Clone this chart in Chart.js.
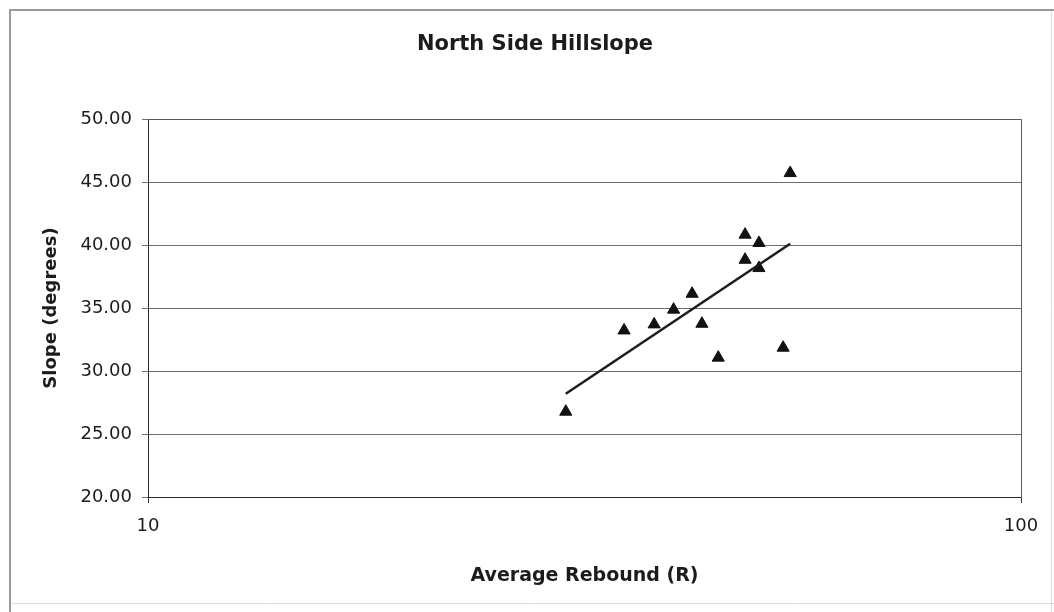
<!DOCTYPE html>
<html>
<head>
<meta charset="utf-8">
<title>North Side Hillslope</title>
<script src="https://cdn.jsdelivr.net/npm/chart.js@4/dist/chart.umd.min.js"></script>
<style>
  html, body { margin: 0; padding: 0; background: #fff; }
  canvas { display: block; }
</style>
</head>
<body>
<canvas id="chart" width="1054" height="612"></canvas>
<script>
// Schmidt hammer readings on the north side hillslope
const rebound = [30.1, 35.1, 38.0, 40.0, 42.0, 43.1, 45.0, 48.3, 48.3, 50.1, 50.1, 53.4, 54.4];
const slope   = [26.77, 33.22, 33.70, 34.87, 36.13, 33.75, 31.06, 40.82, 38.83, 40.16, 38.17, 31.85, 45.71];

const xTickValues = [10, 100];
const yTickValues = [20, 25, 30, 35, 40, 45, 50];

const chartTitle = 'North Side Hillslope';
const xTitle = 'Average Rebound (R)';
const yTitle = 'Slope (degrees)';

// Logarithmic trend line: slope = a * ln(R) + b (least squares)
function logFit(xs, ys) {
  const lx = xs.map(v => Math.log(v));
  const n = lx.length;
  const mx = lx.reduce((s, v) => s + v, 0) / n;
  const my = ys.reduce((s, v) => s + v, 0) / n;
  let sxy = 0, sxx = 0;
  for (let i = 0; i < n; i++) {
    sxy += (lx[i] - mx) * (ys[i] - my);
    sxx += (lx[i] - mx) * (lx[i] - mx);
  }
  const a = sxy / sxx;
  return { a: a, b: my - a * mx };
}
const fit = logFit(rebound, slope);
const trendX = [Math.min(...rebound), Math.max(...rebound)];
const trendPoints = trendX.map(x => ({ x: x, y: fit.a * Math.log(x) + fit.b }));
const points = rebound.map((x, i) => ({ x: x, y: slope[i] }));

const FONT = "'DejaVu Sans', 'Liberation Sans', Arial, sans-serif";
const INK = '#1c1c1c';

// Outer frame, background and chart heading
const framePlugin = {
  id: 'frame',
  beforeDraw(chart) {
    const ctx = chart.ctx;
    ctx.save();
    ctx.fillStyle = '#ffffff';
    ctx.fillRect(0, 0, chart.width, chart.height);
    ctx.lineWidth = 2;
    ctx.strokeStyle = '#9a9a9a';
    ctx.beginPath();
    ctx.moveTo(10, chart.height);
    ctx.lineTo(10, 10);
    ctx.lineTo(chart.width, 10);
    ctx.stroke();
    ctx.lineWidth = 1;
    ctx.strokeStyle = '#dddddd';
    ctx.beginPath();
    ctx.moveTo(11, 603.5);
    ctx.lineTo(chart.width, 603.5);
    ctx.moveTo(1051.5, 11);
    ctx.lineTo(1051.5, 612);
    ctx.stroke();
    ctx.restore();
  },
  afterDraw(chart) {
    const ctx = chart.ctx;
    ctx.save();
    ctx.fillStyle = INK;
    ctx.font = 'bold 21px ' + FONT;
    ctx.textAlign = 'center';
    ctx.textBaseline = 'middle';
    ctx.fillText(chartTitle, 535, 45);
    ctx.restore();
  }
};

// Plot area border on the top and right sides
const plotBorderPlugin = {
  id: 'plotBorder',
  beforeDatasetsDraw(chart) {
    const { ctx, chartArea: a } = chart;
    ctx.save();
    ctx.lineWidth = 1;
    ctx.strokeStyle = '#5a5a5a';
    ctx.beginPath();
    ctx.moveTo(Math.round(a.left) + 0.5, Math.round(a.top) + 0.5);
    ctx.lineTo(Math.round(a.right) + 0.5, Math.round(a.top) + 0.5);
    ctx.lineTo(Math.round(a.right) + 0.5, Math.round(a.bottom) + 0.5);
    ctx.stroke();
    ctx.restore();
  }
};

new Chart(document.getElementById('chart'), {
  type: 'scatter',
  data: {
    datasets: [
      {
        type: 'line',
        label: 'Log trend',
        data: trendPoints,
        borderColor: INK,
        borderWidth: 2.5,
        pointRadius: 0,
        fill: false,
        tension: 0
      },
      {
        label: 'Slope',
        data: points,
        pointStyle: 'triangle',
        pointRadius: 7,
        backgroundColor: '#111',
        borderColor: '#111',
        borderWidth: 1,
        showLine: false
      }
    ]
  },
  options: {
    responsive: false,
    animation: false,
    devicePixelRatio: 1,
    layout: { padding: { top: 119, left: 0, right: 33, bottom: 0 } },
    plugins: {
      legend: { display: false },
      tooltip: { enabled: false },
      title: { display: false }
    },
    scales: {
      x: {
        type: 'logarithmic',
        position: 'bottom',
        min: 10,
        max: 100,
        afterBuildTicks(scale) {
          scale.ticks = xTickValues.map(v => ({ value: v }));
        },
        afterFit(scale) { scale.height = 115; },
        ticks: {
          color: INK,
          font: { family: FONT, size: 18 },
          padding: 13,
          maxRotation: 0,
          autoSkip: false,
          callback: v => String(v)
        },
        grid: {
          drawOnChartArea: false,
          drawTicks: true,
          tickLength: 6,
          color: '#3a3a3a',
          lineWidth: 1
        },
        border: { display: true, color: '#2a2a2a', width: 1 },
        title: {
          display: true,
          text: xTitle,
          color: INK,
          font: { family: FONT, size: 19, weight: 'bold' },
          padding: { top: 0, bottom: 24.6 }
        }
      },
      y: {
        type: 'linear',
        position: 'left',
        min: 20,
        max: 50,
        afterBuildTicks(scale) {
          scale.ticks = yTickValues.map(v => ({ value: v }));
        },
        afterFit(scale) { scale.width = 148; },
        ticks: {
          color: INK,
          font: { family: FONT, size: 18 },
          padding: 10,
          callback: v => Number(v).toFixed(2)
        },
        grid: {
          drawOnChartArea: true,
          drawTicks: true,
          tickLength: 6,
          color: '#6e6e6e',
          lineWidth: 1
        },
        border: { display: true, color: '#2a2a2a', width: 1 },
        title: {
          display: true,
          text: yTitle,
          color: INK,
          font: { family: FONT, size: 18, weight: 'bold' },
          padding: { top: 40.2, bottom: 0 }
        }
      }
    }
  },
  plugins: [framePlugin, plotBorderPlugin]
});
</script>
</body>
</html>
